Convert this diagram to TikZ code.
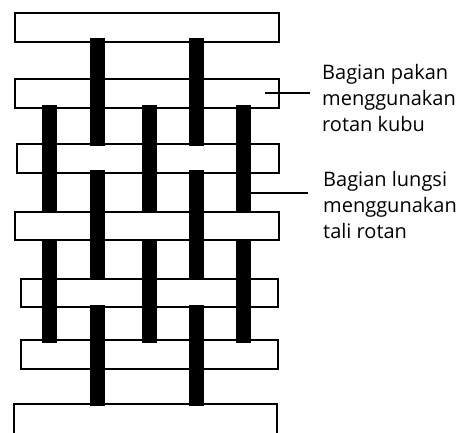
\documentclass[tikz,border=0pt]{standalone}
\usepackage{fontspec}
\setmainfont{Open Sans}
\begin{document}
\begin{tikzpicture}[x=1pt, y=-1pt,
  pakan/.style={draw=black, line width=2pt, fill=white, anchor=north west,
    inner sep=0pt, outer sep=0pt},
  lungsi/.style={fill=black},
  keterangan/.style={anchor=base west, align=left, inner sep=0pt,
    font=\fontsize{20}{25.75}\selectfont},
  penunjuk/.style={draw=black, line width=1.8pt}]
\useasboundingbox (0,0) rectangle (464,432);

% weft strips (pakan)
\node[pakan, minimum width=264pt, minimum height=29pt] (p1) at (15,13) {};
\node[pakan, minimum width=264pt, minimum height=29pt] (p2) at (15,79) {};
\node[pakan, minimum width=262pt, minimum height=29pt] (p3) at (17,144) {};
\node[pakan, minimum width=264pt, minimum height=28pt] (p4) at (15,212) {};
\node[pakan, minimum width=257pt, minimum height=28pt] (p5) at (21,279) {};
\node[pakan, minimum width=257pt, minimum height=29pt] (p6) at (21,340) {};
\node[pakan, minimum width=263pt, minimum height=40pt] (p7) at (14,404) {};

% warp strands (lungsi), visible between the strips they pass under
\foreach \xa in {90,189}{
  \fill[lungsi] (\xa,38) rectangle (\xa+15,146);
  \fill[lungsi] (\xa,170) rectangle (\xa+15,280);
  \fill[lungsi] (\xa,305) rectangle (\xa+15,406);
}
\foreach \xb in {42,142,236}{
  \fill[lungsi] (\xb,105) rectangle (\xb+15,213);
  \fill[lungsi] (\xb,239) rectangle (\xb+15,343);
}

% labels (anchored at the baseline of their last line)
\node[keterangan] (tp) at (322,131) {Bagian pakan\\menggunakan\\rotan kubu};
\node[keterangan] (tl) at (323,238) {Bagian lungsi\\menggunakan\\tali rotan};

\coordinate (cp) at (265,93);
\coordinate (cl) at (250,193);
\coordinate (ep) at (310,93);
\coordinate (el) at (308,193);
\draw[penunjuk] (cp) -- (ep);
\draw[penunjuk] (cl) -- (el);
\end{tikzpicture}
\end{document}
